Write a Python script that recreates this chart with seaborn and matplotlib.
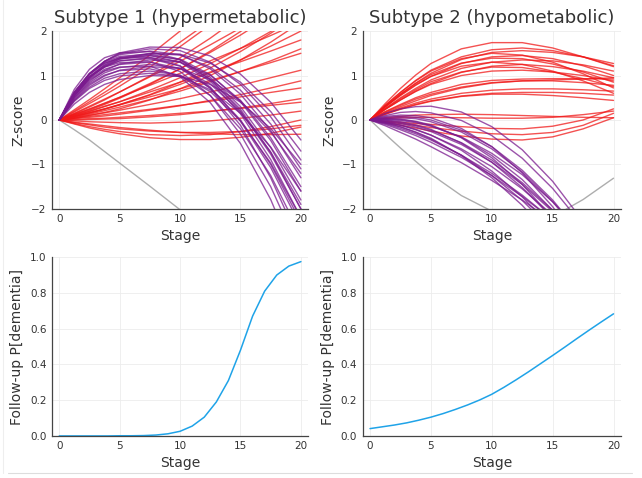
import pandas as pd
import seaborn as sns
import matplotlib.pyplot as plt
from matplotlib.lines import Line2D

stages_top = [0, 1.25, 2.5, 3.75, 5, 7.5, 10, 12.5, 15, 17.5, 20]

# Subtype 1 (hypermetabolic) - red trajectories
s1_red = [
    [0, 0.23, 0.46, 0.70, 0.95, 1.46, 2.00, 2.56, 3.15, 3.76, 4.40],
    [0, 0.18, 0.37, 0.56, 0.76, 1.19, 1.65, 2.14, 2.66, 3.22, 3.80],
    [0, 0.14, 0.29, 0.45, 0.63, 0.99, 1.40, 1.84, 2.33, 2.84, 3.40],
    [0, 0.12, 0.24, 0.37, 0.51, 0.82, 1.15, 1.52, 1.91, 2.34, 2.80],
    [0, 0.13, 0.25, 0.38, 0.51, 0.78, 1.05, 1.33, 1.61, 1.90, 2.20],
    [0, 0.09, 0.19, 0.30, 0.41, 0.67, 0.95, 1.27, 1.61, 1.99, 2.40],
    [0, 0.08, 0.16, 0.25, 0.35, 0.56, 0.80, 1.06, 1.35, 1.66, 2.00],
    [0, 0.10, 0.20, 0.31, 0.41, 0.63, 0.85, 1.08, 1.31, 1.55, 1.80],
    [0, 0.06, 0.13, 0.21, 0.29, 0.46, 0.65, 0.86, 1.09, 1.33, 1.60],
    [0, 0.08, 0.17, 0.25, 0.34, 0.52, 0.70, 0.89, 1.09, 1.29, 1.50],
    [0, 0.05, 0.11, 0.16, 0.22, 0.35, 0.48, 0.63, 0.78, 0.95, 1.12],
    [0, 0.03, 0.06, 0.09, 0.13, 0.22, 0.32, 0.44, 0.57, 0.72, 0.88],
    [0, 0.04, 0.08, 0.12, 0.16, 0.24, 0.33, 0.42, 0.52, 0.62, 0.72],
    [0, 0.00, 0.01, 0.02, 0.03, 0.07, 0.12, 0.19, 0.27, 0.37, 0.48],
    [0, -0.02, -0.04, -0.05, -0.06, -0.07, -0.05, -0.02, 0.04, 0.11, 0.20],
    [0, -0.06, -0.11, -0.16, -0.20, -0.25, -0.28, -0.28, -0.26, -0.20, -0.12],
    [0, -0.09, -0.18, -0.25, -0.31, -0.40, -0.44, -0.44, -0.39, -0.30, -0.16],
    [0, -0.08, -0.15, -0.21, -0.26, -0.33, -0.35, -0.33, -0.26, -0.15, 0.00],
    [0, 0.15, 0.31, 0.47, 0.63, 0.97, 1.32, 1.69, 2.07, 2.47, 2.88],
    [0, 0.07, 0.15, 0.24, 0.34, 0.57, 0.85, 1.17, 1.54, 1.95, 2.40],
    [0, 0.01, 0.03, 0.04, 0.06, 0.10, 0.15, 0.20, 0.26, 0.33, 0.40],
    [0, -0.05, -0.09, -0.13, -0.17, -0.23, -0.28, -0.31, -0.33, -0.33, -0.32],
    [0, 0.20, 0.41, 0.62, 0.84, 1.28, 1.75, 2.23, 2.74, 3.26, 3.80],
    [0, 0.11, 0.22, 0.35, 0.49, 0.80, 1.15, 1.55, 1.99, 2.47, 3.00],
    [0, 0.04, 0.10, 0.17, 0.25, 0.45, 0.70, 1.00, 1.35, 1.75, 2.20],
]

# Subtype 1 (hypermetabolic) - purple trajectories
s1_purple = [
    [0, 0.60, 1.03, 1.32, 1.51, 1.64, 1.63, 1.44, 1.03, 0.40, -0.45],
    [0, 0.61, 1.04, 1.32, 1.49, 1.60, 1.56, 1.30, 0.80, 0.07, -0.90],
    [0, 0.62, 1.05, 1.32, 1.47, 1.55, 1.47, 1.15, 0.58, -0.24, -1.30],
    [0, 0.57, 0.97, 1.24, 1.40, 1.50, 1.46, 1.19, 0.67, -0.09, -1.10],
    [0, 0.62, 1.04, 1.30, 1.43, 1.48, 1.35, 0.96, 0.30, -0.62, -1.80],
    [0, 0.58, 0.98, 1.23, 1.37, 1.45, 1.37, 1.02, 0.41, -0.46, -1.60],
    [0, 0.63, 1.04, 1.28, 1.39, 1.41, 1.22, 0.74, -0.03, -1.07, -2.40],
    [0, 0.56, 0.95, 1.19, 1.33, 1.40, 1.31, 0.92, 0.24, -0.73, -2.00],
    [0, 0.58, 0.97, 1.21, 1.33, 1.38, 1.21, 0.71, -0.12, -1.30, -2.80],
    [0, 0.51, 0.87, 1.11, 1.26, 1.35, 1.30, 1.01, 0.44, -0.40, -1.50],
    [0, 0.59, 0.97, 1.19, 1.29, 1.31, 1.09, 0.55, -0.32, -1.50, -3.00],
    [0, 0.55, 0.92, 1.14, 1.25, 1.30, 1.16, 0.72, 0.00, -1.00, -2.30],
    [0, 0.50, 0.84, 1.06, 1.18, 1.25, 1.16, 0.81, 0.18, -0.72, -1.90],
    [0, 0.54, 0.90, 1.10, 1.19, 1.21, 0.97, 0.39, -0.53, -1.79, -3.40],
    [0, 0.45, 0.78, 0.99, 1.12, 1.20, 1.16, 0.91, 0.43, -0.27, -1.20],
    [0, 0.48, 0.81, 1.01, 1.11, 1.15, 1.00, 0.55, -0.20, -1.25, -2.60],
    [0, 0.44, 0.74, 0.94, 1.04, 1.10, 1.01, 0.64, -0.02, -0.97, -2.20],
    [0, 0.69, 1.14, 1.40, 1.51, 1.54, 1.36, 0.91, 0.20, -0.77, -2.00],
    [0, 0.54, 0.94, 1.20, 1.37, 1.49, 1.48, 1.28, 0.85, 0.19, -0.70],
    [0, 0.61, 1.02, 1.27, 1.40, 1.45, 1.30, 0.87, 0.14, -0.89, -2.20],
    [0, 0.36, 0.62, 0.80, 0.91, 1.00, 0.98, 0.80, 0.40, -0.19, -1.00],
    [0, 0.42, 0.71, 0.89, 0.99, 1.05, 0.98, 0.68, 0.15, -0.61, -1.60],
]

# Subtype 2 (hypometabolic) - red trajectories
s2_red = [
    [0, 0.37, 0.71, 1.01, 1.27, 1.60, 1.74, 1.74, 1.62, 1.42, 1.20],
    [0, 0.30, 0.58, 0.83, 1.05, 1.36, 1.52, 1.56, 1.52, 1.42, 1.27],
    [0, 0.33, 0.62, 0.88, 1.10, 1.38, 1.50, 1.46, 1.30, 1.04, 0.72],
    [0, 0.29, 0.55, 0.78, 0.98, 1.27, 1.42, 1.45, 1.38, 1.22, 1.00],
    [0, 0.31, 0.58, 0.82, 1.02, 1.28, 1.39, 1.38, 1.26, 1.08, 0.85],
    [0, 0.26, 0.50, 0.71, 0.90, 1.16, 1.30, 1.35, 1.33, 1.24, 1.10],
    [0, 0.30, 0.56, 0.79, 0.98, 1.21, 1.30, 1.25, 1.10, 0.88, 0.60],
    [0, 0.24, 0.45, 0.65, 0.82, 1.07, 1.21, 1.25, 1.20, 1.10, 0.95],
    [0, 0.25, 0.48, 0.68, 0.86, 1.08, 1.19, 1.18, 1.08, 0.93, 0.75],
    [0, 0.19, 0.35, 0.50, 0.62, 0.80, 0.89, 0.92, 0.93, 0.93, 0.92],
    [0, 0.18, 0.33, 0.47, 0.58, 0.74, 0.84, 0.88, 0.90, 0.92, 0.95],
    [0, 0.16, 0.30, 0.43, 0.55, 0.72, 0.83, 0.88, 0.88, 0.84, 0.78],
    [0, 0.14, 0.27, 0.38, 0.47, 0.60, 0.67, 0.70, 0.70, 0.68, 0.65],
    [0, 0.13, 0.25, 0.35, 0.43, 0.54, 0.60, 0.62, 0.62, 0.60, 0.56],
    [0, 0.13, 0.24, 0.34, 0.42, 0.53, 0.58, 0.58, 0.55, 0.50, 0.44],
    [0, 0.05, 0.08, 0.11, 0.12, 0.13, 0.12, 0.10, 0.08, 0.06, 0.05],
    [0, 0.03, 0.05, 0.06, 0.06, 0.05, 0.04, 0.04, 0.06, 0.12, 0.20],
    [0, -0.06, -0.12, -0.18, -0.25, -0.36, -0.43, -0.45, -0.38, -0.20, 0.05],
    [0, -0.04, -0.08, -0.12, -0.17, -0.25, -0.31, -0.33, -0.28, -0.12, 0.15],
    [0, -0.03, -0.05, -0.08, -0.10, -0.15, -0.19, -0.20, -0.14, 0.00, 0.25],
    [0, 0.24, 0.45, 0.64, 0.80, 1.00, 1.10, 1.12, 1.08, 1.00, 0.88],
    [0, 0.33, 0.62, 0.89, 1.12, 1.42, 1.58, 1.62, 1.56, 1.42, 1.22],
]

# Subtype 2 (hypometabolic) - purple trajectories
s2_purple = [
    [0, 0.15, 0.25, 0.30, 0.31, 0.18, -0.15, -0.67, -1.38, -2.28, -3.38],
    [0, 0.10, 0.17, 0.19, 0.16, -0.01, -0.35, -0.86, -1.54, -2.38, -3.40],
    [0, 0.06, 0.08, 0.06, 0.00, -0.23, -0.60, -1.13, -1.80, -2.63, -3.60],
    [0, 0.02, 0.01, -0.04, -0.13, -0.39, -0.80, -1.34, -2.03, -2.84, -3.80],
    [0, -0.01, -0.06, -0.13, -0.23, -0.51, -0.90, -1.41, -2.03, -2.76, -3.60],
    [0, -0.05, -0.12, -0.22, -0.34, -0.65, -1.05, -1.55, -2.14, -2.82, -3.60],
    [0, -0.08, -0.19, -0.31, -0.45, -0.79, -1.20, -1.69, -2.25, -2.89, -3.60],
    [0, -0.13, -0.28, -0.43, -0.60, -0.96, -1.36, -1.80, -2.29, -2.81, -3.38],
    [0, 0.08, 0.11, 0.10, 0.05, -0.19, -0.60, -1.19, -1.95, -2.89, -4.00],
    [0, 0.03, 0.02, -0.03, -0.11, -0.40, -0.85, -1.45, -2.21, -3.13, -4.20],
    [0, -0.04, -0.11, -0.21, -0.34, -0.68, -1.15, -1.73, -2.44, -3.26, -4.20],
    [0, 0.00, -0.04, -0.11, -0.21, -0.52, -0.95, -1.52, -2.21, -3.04, -4.00],
    [0, -0.07, -0.16, -0.28, -0.43, -0.79, -1.25, -1.81, -2.48, -3.24, -4.10],
    [0, 0.01, -0.01, -0.06, -0.14, -0.38, -0.75, -1.23, -1.84, -2.56, -3.40],
    [0, -0.03, -0.08, -0.16, -0.26, -0.55, -0.95, -1.45, -2.06, -2.78, -3.60],
    [0, 0.04, 0.05, 0.03, -0.04, -0.27, -0.65, -1.17, -1.84, -2.65, -3.60],
    [0, -0.10, -0.22, -0.35, -0.50, -0.84, -1.25, -1.72, -2.25, -2.84, -3.50],
    [0, -0.06, -0.15, -0.27, -0.41, -0.80, -1.30, -1.92, -2.66, -3.52, -4.50],
]

# grey reference curves
s1_gray = [0, -0.22, -0.45, -0.71, -0.97, -1.49, -2.02, -2.55, -3.10, -3.65, -4.20]
s2_gray = [0, -0.32, -0.63, -0.93, -1.22, -1.70, -2.05, -2.25, -2.18, -1.79, -1.31]

# follow-up probability of dementia
stages_bottom = [0, 1, 2, 3, 4, 5, 6, 7, 8, 9, 10, 11, 12, 13, 14, 15, 16, 17, 18, 19, 20]
s1_prob = [0, 0, 0, 0, 0, 0.001, 0.001, 0.002, 0.005, 0.012, 0.026, 0.055, 0.105,
           0.19, 0.31, 0.48, 0.67, 0.81, 0.90, 0.95, 0.975]
s2_prob = [0.041, 0.051, 0.061, 0.073, 0.088, 0.105, 0.125, 0.148, 0.173, 0.201, 0.233,
           0.272, 0.314, 0.358, 0.404, 0.45, 0.497, 0.545, 0.592, 0.638, 0.683]

RED = "#F01818"
PURPLE = "#7A1A8E"
BLUE = "#1FA3E8"
TEXT = "#333333"


def curves_frame(red, purple):
    rows = []
    for i, c in enumerate(red):
        for s, v in zip(stages_top, c):
            rows.append({"stage": s, "z": v, "curve": f"r{i}", "group": "red"})
    for i, c in enumerate(purple):
        for s, v in zip(stages_top, c):
            rows.append({"stage": s, "z": v, "curve": f"p{i}", "group": "purple"})
    return pd.DataFrame(rows)


def style_axes(ax):
    sns.despine(ax=ax)
    for side in ["left", "bottom"]:
        ax.spines[side].set_color("#444444")
        ax.spines[side].set_linewidth(0.9)
    ax.grid(True, color="#ECECEC", lw=0.6)
    ax.set_axisbelow(True)
    ax.tick_params(direction="in", length=3, width=0.8, colors="#444444",
                   labelsize=7.5, labelcolor=TEXT, pad=4)
    ax.set_xlim(-0.6, 20.6)
    ax.set_xticks([0, 5, 10, 15, 20])
    ax.set_xlabel("Stage", fontsize=10, color=TEXT, labelpad=3)


def top_panel(ax, red, purple, gray, title):
    df = curves_frame(red, purple)
    sns.lineplot(x=stages_top, y=gray, ax=ax, color="#999999", lw=1.0, alpha=0.8)
    sns.lineplot(data=df, x="stage", y="z", units="curve", estimator=None,
                 hue="group", palette={"red": RED, "purple": PURPLE},
                 lw=1.0, alpha=0.75, legend=False, ax=ax)
    style_axes(ax)
    ax.set_ylim(-2, 2)
    ax.set_yticks([-2, -1, 0, 1, 2])
    ax.set_ylabel("Z-score", fontsize=10, color=TEXT, labelpad=4)
    ax.set_title(title, fontsize=13, color=TEXT, pad=6)


def bottom_panel(ax, prob):
    sns.lineplot(x=stages_bottom, y=prob, ax=ax, color=BLUE, lw=1.1)
    style_axes(ax)
    ax.set_ylim(0, 1)
    ax.set_yticks([0, 0.2, 0.4, 0.6, 0.8, 1.0])
    ax.set_yticklabels(["0.0", "0.2", "0.4", "0.6", "0.8", "1.0"])
    ax.set_ylabel("Follow-up P[dementia]", fontsize=10, color=TEXT, labelpad=4)


def main():
    sns.set_theme(style="white")
    plt.rcParams["font.family"] = ["DejaVu Sans"]
    fig = plt.figure(figsize=(6.42, 4.78), dpi=100)

    ax1 = fig.add_axes([0.081, 0.563, 0.399, 0.372])
    ax2 = fig.add_axes([0.565, 0.563, 0.402, 0.372])
    ax3 = fig.add_axes([0.081, 0.088, 0.399, 0.374])
    ax4 = fig.add_axes([0.565, 0.088, 0.402, 0.374])

    top_panel(ax1, s1_red, s1_purple, s1_gray, "Subtype 1 (hypermetabolic)")
    top_panel(ax2, s2_red, s2_purple, s2_gray, "Subtype 2 (hypometabolic)")
    bottom_panel(ax3, s1_prob)
    bottom_panel(ax4, s2_prob)

    # faint frame lines of the original screenshot
    fig.add_artist(Line2D([0.012, 0.985], [0.011, 0.011], color="#DDDDDD", lw=0.8))
    fig.add_artist(Line2D([0.004, 0.004], [0.011, 1.0], color="#EEEEEE", lw=0.8))

    fig.savefig("out.png", dpi=100)


if __name__ == "__main__":
    main()
